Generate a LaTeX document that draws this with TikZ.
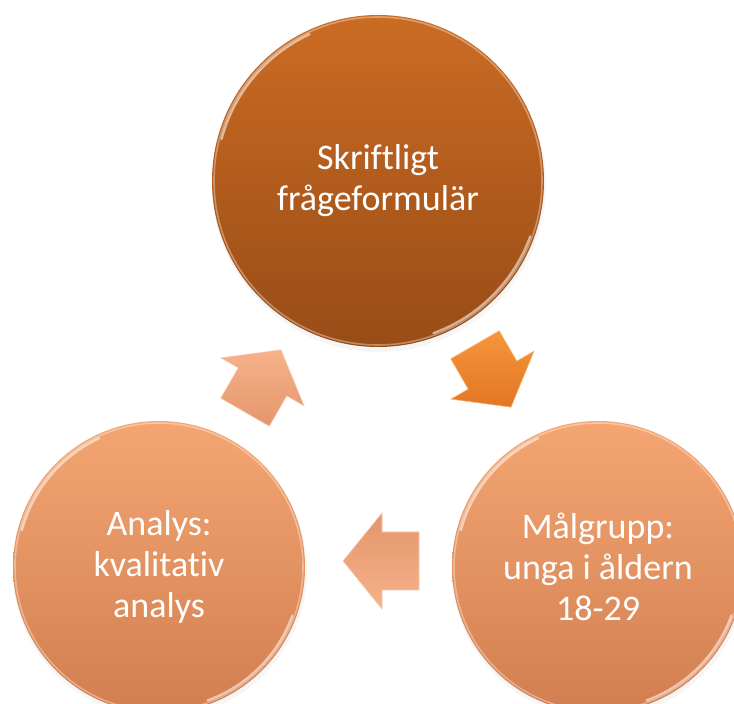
\documentclass[tikz,border=0pt]{standalone}
\usepackage{fontspec}
\setmainfont{Carlito}[Ligatures=NoCommon]
\definecolor{darkTop}{RGB}{203,108,36}
\definecolor{darkBot}{RGB}{152,76,22}
\definecolor{lightTop}{RGB}{244,166,114}
\definecolor{lightBot}{RGB}{210,126,80}
\definecolor{arrA}{RGB}{246,150,60}
\definecolor{arrAd}{RGB}{226,118,36}
\definecolor{arrB}{RGB}{246,178,138}
\definecolor{arrBd}{RGB}{228,150,108}
\begin{document}
\begin{tikzpicture}[x=1pt,y=1pt,
  lbl/.style={text=white, align=center, font=\fontsize{36}{41}\selectfont},
  bigball/.style={circle, inner sep=0pt, minimum size=332pt, top color=darkTop, bottom color=darkBot, lbl},
  smallball/.style={circle, inner sep=0pt, minimum size=292pt, top color=lightTop, bottom color=lightBot, lbl},
  rim/.style={draw=white, line width=1.6pt, opacity=0.35},
  gloss/.style={draw=white, line width=2.4pt, opacity=0.55, line cap=round},
  darkarrow/.style={top color=arrA, bottom color=arrAd, draw=arrA!70!white, line width=0.6pt},
  lightarrow/.style={top color=arrB, bottom color=arrBd, draw=arrB!70!white, line width=0.6pt}
]
\useasboundingbox (0,0) rectangle (734,704);
\clip (0,0) rectangle (734,704);
\fill[white] (0,0) rectangle (734,704);

% soft shadows
\fill[black, opacity=0.035] (379,519) circle (167);
\fill[black, opacity=0.035] (160,133) circle (147);
\fill[black, opacity=0.035] (599,133) circle (147);

% circles
\node[bigball] (q) at (378,523) {Skriftligt\\frågeformulär};
\node[smallball] (a) at (159,137) {Analys:\\kvalitativ\\analys};
\node[smallball] (m) at (598,137) {Målgrupp:\\unga i åldern\\18-29};

% rims and gloss
\draw[rim] (q.center) circle (164);
\draw[rim] (a.center) circle (144);
\draw[rim] (m.center) circle (144);
\draw[gloss] ([shift={(115:162)}]q.center) arc (115:165:162);
\draw[gloss] ([shift={(-70:162)}]q.center) arc (-70:-20:162);
\draw[gloss] ([shift={(115:142)}]a.center) arc (115:165:142);
\draw[gloss] ([shift={(-70:142)}]a.center) arc (-70:-20:142);
\draw[gloss] ([shift={(115:142)}]m.center) arc (115:165:142);
\draw[gloss] ([shift={(-70:142)}]m.center) arc (-70:-20:142);

% block arrows
\coordinate (r1) at (493,328);
\coordinate (r2) at (381,143);
\coordinate (r3) at (263,323);
\begin{scope}[shift={(r1)}, rotate=-60]
  \path[darkarrow] (-36,28) -- (-1,28) -- (-1,48) -- (36,0) -- (-1,-48) -- (-1,-28) -- (-36,-28) -- cycle;
\end{scope}
\begin{scope}[shift={(r2)}, rotate=180]
  \path[lightarrow, top color=arrBd, bottom color=arrB] (-38,29) -- (-1,29) -- (-1,48) -- (38,0) -- (-1,-48) -- (-1,-29) -- (-38,-29) -- cycle;
\end{scope}
\begin{scope}[shift={(r3)}, rotate=60]
  \path[lightarrow] (-36,28) -- (-1,28) -- (-1,48) -- (36,0) -- (-1,-48) -- (-1,-28) -- (-36,-28) -- cycle;
\end{scope}
\end{tikzpicture}
\end{document}
